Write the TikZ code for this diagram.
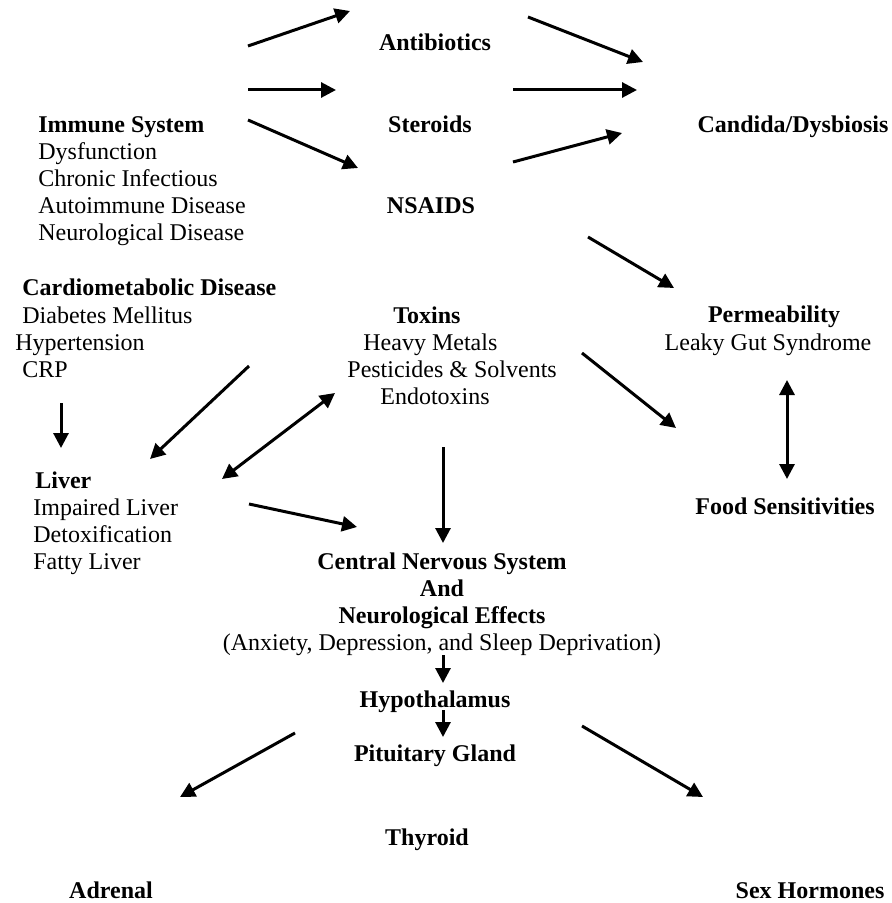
\documentclass[tikz,border=0pt]{standalone}
\usepackage{fontspec}
\setmainfont{Liberation Serif}
\usetikzlibrary{arrows.meta, positioning}

\begin{document}
\begin{tikzpicture}[x=0.5pt, y=-0.5pt, every node/.style={font=\fontsize{12}{13.5}\selectfont, inner sep=0pt}]
	\tikzstyle{hd}=[font=\fontsize{12}{13.5}\selectfont\bfseries, anchor=base]
	\tikzstyle{blk}=[align=left, anchor=base west]
	\tikzstyle{mid}=[align=center, anchor=base]
	\tikzstyle{arr}=[line width=1.5pt, -{Triangle[length=7.5pt,width=7.5pt]}]
	\tikzstyle{darr}=[line width=1.5pt, {Triangle[length=7.5pt,width=7.5pt]}-{Triangle[length=7.5pt,width=7.5pt]}]
    \useasboundingbox (0,0) rectangle (892,903);
    % drugs and gut (blocks sit on the baseline of their last line)
    \node[hd] (anti) at (435,51) {Antibiotics};
    \node[hd] (ster) at (430,133) {Steroids};
    \node[hd] (nsaid) at (431,214) {NSAIDS};
    \node[hd] (cand) at (793,133) {Candida/Dysbiosis};
    \node[blk] (imm) at (38,241) {\textbf{Immune System}\\Dysfunction\\Chronic Infectious\\Autoimmune Disease\\Neurological Disease};
    \node[blk] (card) at (15,377) {\hspace*{3.5pt}\textbf{Cardiometabolic Disease}\\\hspace*{3.5pt}Diabetes Mellitus\\Hypertension\\\hspace*{3.5pt}CRP};
    \node[blk] (tox) at (347,404) {\hspace*{23pt}\textbf{Toxins}\\\hspace*{8pt}Heavy Metals\\Pesticides \& Solvents\\\hspace*{16.5pt}Endotoxins};
    \node[mid] (perm) at (768,350) {\hspace*{6pt}\textbf{Permeability}\\Leaky Gut Syndrome};
    \node[hd] (food) at (785,514) {Food Sensitivities};
    \node[blk] (liv) at (33,569) {\hspace*{1pt}\textbf{Liver}\\Impaired Liver\\Detoxification\\Fatty Liver};
    % brain and glands
    \node[mid] (cns) at (442,650) {\textbf{Central Nervous System}\\\textbf{And}\\\textbf{Neurological Effects}\\(Anxiety, Depression, and Sleep Deprivation)};
    \node[hd] (hyp) at (435,707) {Hypothalamus};
    \node[hd] (pit) at (435,761) {Pituitary Gland};
    \node[hd] (thy) at (427,845) {Thyroid};
    \node[hd] (adr) at (111,898) {Adrenal};
    \node[hd] (sex) at (810,898) {Sex Hormones};
    % arrow ends
    \coordinate (imm-o1) at (248,46);  \coordinate (anti-i) at (350,11);
    \coordinate (imm-o2) at (248,90);  \coordinate (ster-i) at (336,90);
    \coordinate (imm-o3) at (248,120); \coordinate (nsaid-i) at (358,168);
    \coordinate (anti-o) at (528,17);  \coordinate (cand-i1) at (643,62);
    \coordinate (ster-o) at (513,90);  \coordinate (cand-i2) at (637,90);
    \coordinate (nsaid-o1) at (513,162); \coordinate (cand-i3) at (622,133);
    \coordinate (nsaid-o2) at (588,237); \coordinate (perm-i) at (674,288);
    \coordinate (tox-o1) at (582,353); \coordinate (food-i) at (676,428);
    \coordinate (perm-o) at (787,380); \coordinate (food-o) at (787,479);
    \coordinate (card-o1) at (61,403); \coordinate (liv-i1) at (61,448);
    \coordinate (card-o2) at (249,366); \coordinate (liv-i2) at (150,459);
    \coordinate (tox-o2) at (335,393); \coordinate (liv-o1) at (222,479);
    \coordinate (liv-o2) at (249,504); \coordinate (cns-i1) at (357,527);
    \coordinate (tox-o3) at (443,447); \coordinate (cns-i2) at (443,543);
    \coordinate (cns-o) at (443,655); \coordinate (hyp-i) at (443,683);
    \coordinate (hyp-o) at (443,710); \coordinate (pit-i) at (443,737);
    \coordinate (pit-o1) at (295,733); \coordinate (adr-i) at (180,797);
    \coordinate (pit-o2) at (582,726); \coordinate (sex-i) at (703,797);
    \draw[arr] (imm-o1) -- (anti-i);
    \draw[arr] (imm-o2) -- (ster-i);
    \draw[arr] (imm-o3) -- (nsaid-i);
    \draw[arr] (anti-o) -- (cand-i1);
    \draw[arr] (ster-o) -- (cand-i2);
    \draw[arr] (nsaid-o1) -- (cand-i3);
    \draw[arr] (nsaid-o2) -- (perm-i);
    \draw[arr] (tox-o1) -- (food-i);
    \draw[darr] (perm-o) -- (food-o);
    \draw[arr] (card-o1) -- (liv-i1);
    \draw[arr] (card-o2) -- (liv-i2);
    \draw[darr] (tox-o2) -- (liv-o1);
    \draw[arr] (liv-o2) -- (cns-i1);
    \draw[arr] (tox-o3) -- (cns-i2);
    \draw[arr] (cns-o) -- (hyp-i);
    \draw[arr] (hyp-o) -- (pit-i);
    \draw[arr] (pit-o1) -- (adr-i);
    \draw[arr] (pit-o2) -- (sex-i);
  \end{tikzpicture}
\end{document}
